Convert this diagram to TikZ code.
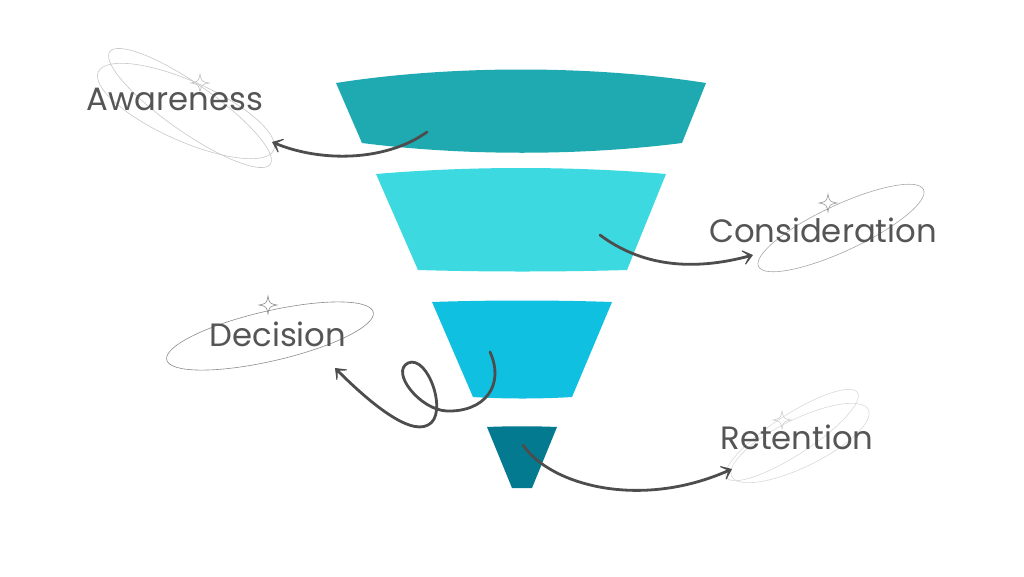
\documentclass[tikz,border=0pt]{standalone}
\usepackage{fontspec}
\setmainfont{Poppins}
\usetikzlibrary{arrows.meta,calc}
\definecolor{TealDark}{HTML}{1FA9B1}
\definecolor{AquaLight}{HTML}{3DD9E0}
\definecolor{SkyBlue}{HTML}{0FC0E0}
\definecolor{PetrolBlue}{HTML}{037A8F}
\definecolor{InkGray}{HTML}{4D4D4D}
\definecolor{TextGray}{HTML}{555555}

\begin{document}
\begin{tikzpicture}[x=1pt,y=-1pt,
  lbl/.style={text=TextGray, font=\fontsize{32.3}{38}\selectfont, inner sep=0pt},
  ring/.style={draw=#1, line width=0.6pt},
  ring/.default=black!35,
  flow/.style={draw=InkGray, line width=2.8pt, line cap=round,
    -{Stealth[length=14pt,width=22pt,inset=10pt]}},
  sparkle/.pic={\draw[#1, line width=0.6pt] (0,-9) .. controls (1.5,-1.5) .. (9,0)
    .. controls (1.5,1.5) .. (0,9) .. controls (-1.5,1.5) .. (-9,0)
    .. controls (-1.5,-1.5) .. cycle;},
  sparkle/.default=black!40]
\useasboundingbox (0,0) rectangle (1024,576);

% funnel stages
\fill[TealDark] (336,83) .. controls (450,65) and (592,65) .. (706,83)
  -- (682,143) .. controls (580,156) and (464,156) .. (362,143) -- cycle;
\fill[AquaLight] (376,174) .. controls (470,166) and (572,166) .. (666,174)
  -- (627,270) .. controls (560,272) and (485,272) .. (418,270) -- cycle;
\fill[SkyBlue] (432,302) .. controls (490,300) and (554,300) .. (612,302)
  -- (572,397) .. controls (540,399) and (505,399) .. (473,397) -- cycle;
\fill[PetrolBlue] (487,427) .. controls (510,426) and (534,426) .. (557,427)
  -- (532,488) -- (512,488) -- cycle;

% rings round the labels
\draw[ring=black!22, rotate around={-35:(190,108)}] (190,108) ellipse [x radius=98, y radius=24];
\draw[ring=black!22, rotate around={-24:(186,111)}] (186,111) ellipse [x radius=96, y radius=30];
\draw[ring=black!35, rotate around={25:(841,228)}] (841,228) ellipse [x radius=91, y radius=23];
\draw[ring=black!45, rotate around={13:(270,336)}] (270,336) ellipse [x radius=106, y radius=25];
\draw[ring=black!15, rotate around={33:(792,435)}] (792,435) ellipse [x radius=78, y radius=20];
\draw[ring=black!15, rotate around={26:(800,443)}] (800,443) ellipse [x radius=76, y radius=24];

\pic at (200,83) {sparkle=black!25};
\pic at (828,203) {sparkle=black!40};
\pic at (268,305) {sparkle=black!45};
\pic at (782,420) {sparkle=black!20};

% labels
\node[lbl] (aw) at (175,99) {Awareness};
\node[lbl] (co) at (823,230) {Consideration};
\node[lbl] (de) at (278,334) {Decision};
\node[lbl] (re) at (797,437) {Retention};

% arrow ends
\coordinate (s1) at (427,132);
\coordinate (t1) at (272,142);
\coordinate (s2) at (600,235);
\coordinate (t2) at (753,255);
\coordinate (s3) at (490,352);
\coordinate (t3) at (335,368);
\coordinate (s4) at (523,445);
\coordinate (t4) at (732,469);

\draw[flow] (s1) .. controls (385,162) and (320,162) .. (t1);
\draw[flow] (s2) .. controls (640,265) and (690,272) .. (t2);
\draw[flow] (s3) .. controls (505,385) and (485,412) .. (447,411)
  .. controls (420,410) and (390,372) .. (408,363)
  .. controls (428,354) and (449,415) .. (428,425)
  .. controls (408,436) and (365,398) .. (t3);
\draw[flow] (s4) .. controls (550,485) and (640,510) .. (t4);
\end{tikzpicture}
\end{document}
